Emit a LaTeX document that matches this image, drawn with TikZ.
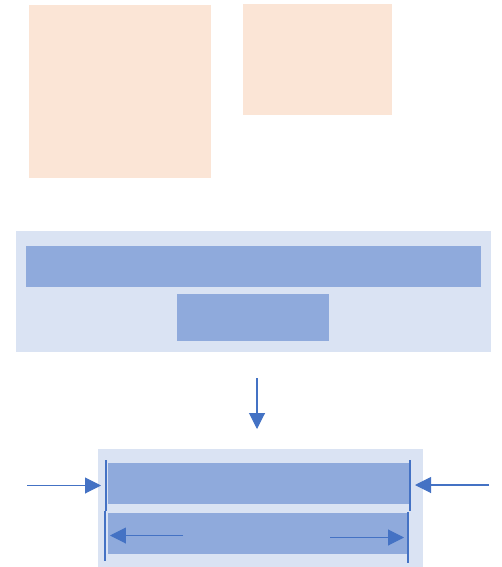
\documentclass[tikz,border=0pt]{standalone}
\usepackage{tikz}
\usetikzlibrary{arrows.meta, positioning}

\definecolor{peach}{HTML}{FBE5D6}
\definecolor{panelblue}{HTML}{DAE3F3}
\definecolor{barblue}{HTML}{8FAADC}
\definecolor{linkblue}{HTML}{4472C4}

\begin{document}
\begin{tikzpicture}[
		x=0.02cm, y=-0.02cm,
		every node/.style={inner sep=0pt, outer sep=0pt},
		note/.style={fill=peach},
		panel/.style={fill=panelblue},
		bar/.style={fill=barblue},
		arrow/.style={-{Triangle[length=0.32cm, width=0.32cm]}, draw=linkblue, line width=0.6pt},
		stop/.style={draw=linkblue, line width=0.6pt}
	]
	
		\useasboundingbox (0,0) rectangle (501,567);
	
		% Nodes
		\node[note, minimum width=3.64cm, minimum height=3.46cm] (notea) at (120,91.5) {};
		\node[note, minimum width=2.98cm, minimum height=2.22cm] (noteb) at (317.5,59.5) {};
		\node[panel, minimum width=9.5cm, minimum height=2.42cm] (top) at (253.5,291.5) {};
		\node[bar, minimum width=9.1cm, minimum height=0.82cm] (wide) at (253.5,266.5) {};
		\node[bar, minimum width=3.04cm, minimum height=0.94cm] (small) at (253,317.5) {};
		\node[panel, minimum width=6.5cm, minimum height=2.36cm] (bottom) at (260.5,508) {};
		\node[bar, minimum width=6.02cm, minimum height=0.82cm] (upper) at (258.5,483.5) {};
		\node[bar, minimum width=6.02cm, minimum height=0.82cm] (lower) at (258.5,533.5) {};
		
		% Coordinates
		\coordinate (downs) at (257,378);
		\coordinate (downe) at (257,429);
		\coordinate (ls) at (27,485.5);
		\coordinate (le) at (101,485.5);
		\coordinate (rs) at (489,485);
		\coordinate (re) at (415,485);
		\coordinate (ils) at (183,535.5);
		\coordinate (ile) at (110,535.5);
		\coordinate (irs) at (330,537.5);
		\coordinate (ire) at (404,537.5);
		\coordinate (lta) at (106,460);
		\coordinate (ltb) at (106,511);
		\coordinate (lba) at (105,511);
		\coordinate (lbb) at (105,561);
		\coordinate (rta) at (410,460);
		\coordinate (rtb) at (410,511);
		\coordinate (rba) at (408,512);
		\coordinate (rbb) at (408,563);
		
		% Lines
		\draw[stop] (lta) -- (ltb);
		\draw[stop] (lba) -- (lbb);
		\draw[stop] (rta) -- (rtb);
		\draw[stop] (rba) -- (rbb);
		
		% Arrows
		\draw[arrow] (downs) -- (downe);
		\draw[arrow] (ls) -- (le);
		\draw[arrow] (rs) -- (re);
		\draw[arrow] (ils) -- (ile);
		\draw[arrow] (irs) -- (ire);
		
	\end{tikzpicture}
\end{document}
